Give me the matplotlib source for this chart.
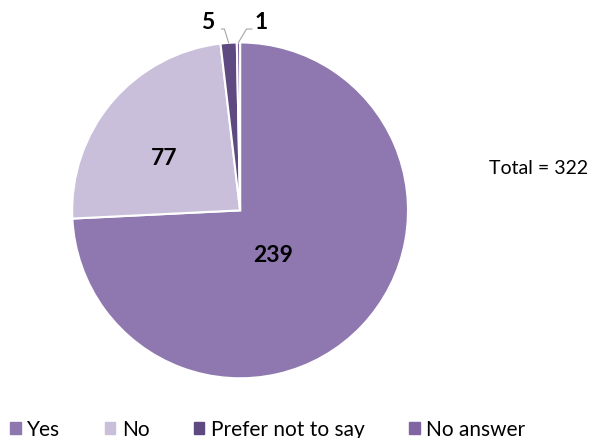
import numpy as np
import matplotlib.pyplot as plt

categories = ["Yes", "No", "Prefer not to say", "No answer"]
counts = [239, 77, 5, 1]
colors = ["#8E78AF", "#C9BFDB", "#5F4981", "#8165A3"]

plt.rcParams['font.family'] = ['Lato', 'DejaVu Sans']

fig = plt.figure(figsize=(5.91, 4.39), dpi=100)
ax = fig.add_axes([0.122, 0.136, 0.5685, 0.765])

wedges, _ = ax.pie(counts, colors=colors, startangle=90, counterclock=False,
                   wedgeprops=dict(edgecolor="white", linewidth=1.5))
ax.set_xlim(-1, 1)
ax.set_ylim(-1, 1)
ax.set_aspect("equal")

# inside labels
ax.text(0.196, -0.262, str(counts[0]), ha="center", va="center",
        fontsize=16.5, fontweight="bold")
ax.text(-0.452, 0.315, str(counts[1]), ha="center", va="center",
        fontsize=16.5, fontweight="bold")

# outside labels with leader lines
total = sum(counts)
ang = 90 - 360 * np.cumsum([0] + counts) / total
for i, (tx, ty, lx) in zip([2, 3], [(-0.196, 1.125, -0.11), (0.125, 1.125, 0.07)]):
    mid = np.deg2rad((ang[i] + ang[i + 1]) / 2)
    px, py = np.cos(mid), np.sin(mid)
    ax.plot([px, px + (lx - px) * 0.6, lx], [py, 1.08, 1.08],
            color="#A6A6A6", lw=0.8, clip_on=False)
    ax.text(tx, ty, str(counts[i]), ha="center", va="center",
            fontsize=16.5, fontweight="bold", clip_on=False)

fig.text(0.912, 0.617, "Total = %d" % total, ha="center", va="center", fontsize=14)

handles = [plt.Rectangle((0, 0), 1, 1, color=c) for c in colors]
fig.legend(handles, categories, loc="lower center", bbox_to_anchor=(0.453, -0.045),
           ncol=4, frameon=False, fontsize=15, handlelength=0.5,
           handleheight=0.5, handletextpad=0.3, columnspacing=2.15)

fig.savefig("out.png", dpi=100)
